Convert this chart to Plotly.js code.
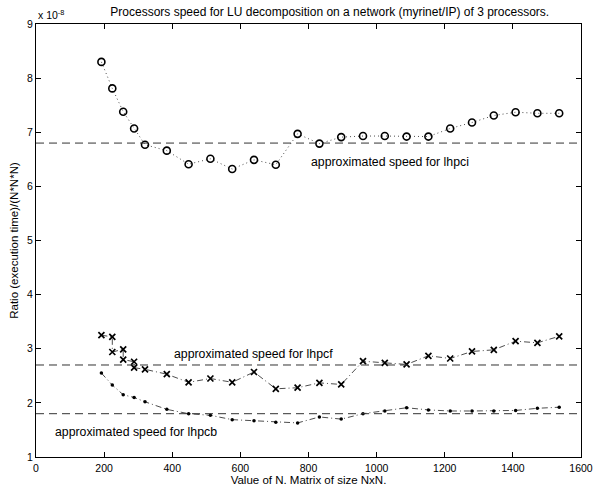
<!DOCTYPE html>
<html>
<head>
<meta charset="utf-8">
<script src="https://cdn.plot.ly/plotly-3.0.1.min.js"></script>
<style>
  html, body { margin: 0; padding: 0; background: #fff; }
  #chart { width: 597px; height: 486px; }
</style>
</head>
<body>
<div id="chart"></div>
<script>
// Values are in units of 1e-8 (axis shows "x 10^-8")
const nLhpci = [192, 224, 256, 288, 320, 384, 448, 512, 576, 640, 704, 768, 832, 896, 960, 1024, 1088, 1152, 1216, 1280, 1344, 1408, 1472, 1536];
const ratioLhpci = [8.30, 7.81, 7.38, 7.07, 6.77, 6.66, 6.41, 6.51, 6.32, 6.49, 6.40, 6.97, 6.79, 6.91, 6.93, 6.93, 6.92, 6.92, 7.07, 7.18, 7.31, 7.37, 7.35, 7.35];

const nLhpcf = [192, 224, 224, 256, 256, 288, 288, 320, 384, 448, 512, 576, 640, 704, 768, 832, 896, 960, 1024, 1088, 1152, 1216, 1280, 1344, 1408, 1472, 1536];
const ratioLhpcf = [3.25, 3.22, 2.94, 2.99, 2.80, 2.76, 2.65, 2.62, 2.53, 2.38, 2.45, 2.38, 2.57, 2.26, 2.28, 2.37, 2.34, 2.77, 2.74, 2.71, 2.87, 2.82, 2.95, 2.98, 3.14, 3.11, 3.23];

const nLhpcb = [192, 224, 256, 288, 320, 384, 448, 512, 576, 640, 704, 768, 832, 896, 960, 1024, 1088, 1152, 1216, 1280, 1344, 1408, 1472, 1536];
const ratioLhpcb = [2.55, 2.33, 2.15, 2.10, 2.02, 1.88, 1.80, 1.77, 1.69, 1.67, 1.64, 1.63, 1.74, 1.70, 1.80, 1.85, 1.91, 1.87, 1.85, 1.85, 1.85, 1.86, 1.90, 1.92];

const approxNames = ["lhpci", "lhpcf", "lhpcb"];
const approxSpeed = [6.8, 2.7, 1.8];
const approxLabelX = [800, 400, 50];
const approxLabelY = [6.45, 2.9, 1.47];
const approxRangeX = [0, 1600];

const xTicks = [0, 200, 400, 600, 800, 1000, 1200, 1400, 1600];
const yTicks = [1, 2, 3, 4, 5, 6, 7, 8, 9];

const FONT = "Liberation Sans, Arial, Helvetica, sans-serif";

const traces = [
  {
    x: nLhpci, y: ratioLhpci, type: "scatter", mode: "lines+markers",
    line: { color: "#000", width: 0.7, dash: "1px,3px" },
    marker: { symbol: "circle-open", size: 7, color: "#000", line: { width: 1.6, color: "#000" } },
    hoverinfo: "skip"
  },
  {
    x: nLhpcf, y: ratioLhpcf, type: "scatter", mode: "lines+markers",
    line: { color: "#000", width: 0.7, dash: "6px,3px,1px,3px" },
    marker: { symbol: "x-thin-open", size: 6, color: "#000", line: { width: 1.7, color: "#000" } },
    hoverinfo: "skip"
  },
  {
    x: nLhpcb, y: ratioLhpcb, type: "scatter", mode: "lines+markers",
    line: { color: "#000", width: 0.7, dash: "6px,3px,1px,3px" },
    marker: { symbol: "circle", size: 3.5, color: "#000" },
    hoverinfo: "skip"
  }
];

approxSpeed.forEach(function (v) {
  traces.push({
    x: approxRangeX, y: [v, v], type: "scatter", mode: "lines",
    line: { color: "#333", width: 1, dash: "8px,5px" },
    hoverinfo: "skip"
  });
});

const annotations = approxNames.map(function (name, i) {
  return {
    x: approxLabelX[i], y: approxLabelY[i], xref: "x", yref: "y",
    text: "approximated speed for " + name, showarrow: false,
    xanchor: "left", yanchor: "middle",
    font: { family: FONT, size: 12.3, color: "#000" }
  };
});
annotations.push({
  x: 0, y: 1, xref: "paper", yref: "paper", xanchor: "left", yanchor: "bottom",
  yshift: 1, text: "x 10<sup>-8</sup>", showarrow: false,
  font: { family: FONT, size: 10.5, color: "#000" }
});

const layout = {
  width: 597, height: 486,
  margin: { l: 36, r: 16, t: 24, b: 29 },
  paper_bgcolor: "#fff", plot_bgcolor: "#fff",
  showlegend: false,
  font: { family: FONT, size: 10.5, color: "#000" },
  title: {
    text: "Processors speed for LU decomposition on a network (myrinet/IP) of 3 processors.",
    font: { family: FONT, size: 12, color: "#000" },
    xref: "paper", x: 0.539, xanchor: "center",
    yref: "container", y: 0.975, yanchor: "middle"
  },
  xaxis: {
    range: [0, 1600], tickvals: xTicks, ticktext: xTicks.map(String),
    ticks: "inside", ticklen: 5, tickwidth: 1, tickcolor: "#000",
    showline: true, linecolor: "#000", linewidth: 1, mirror: "ticks",
    showgrid: false, zeroline: false, ticklabelstandoff: 1,
    tickfont: { family: FONT, size: 10.5, color: "#000" },
    title: { text: "Value of N. Matrix of size NxN.", standoff: 3, font: { family: FONT, size: 11.5, color: "#000" } }
  },
  yaxis: {
    range: [1, 9], tickvals: yTicks, ticktext: yTicks.map(String),
    ticks: "inside", ticklen: 5, tickwidth: 1, tickcolor: "#000",
    showline: true, linecolor: "#000", linewidth: 1, mirror: "ticks",
    showgrid: false, zeroline: false,
    tickfont: { family: FONT, size: 10.5, color: "#000" },
    title: { text: "Ratio (execution time)/(N*N*N)", standoff: 6, font: { family: FONT, size: 11.5, color: "#000" } }
  },
  annotations: annotations
};

Plotly.newPlot("chart", traces, layout, { staticPlot: true, displayModeBar: false });
</script>
</body>
</html>
